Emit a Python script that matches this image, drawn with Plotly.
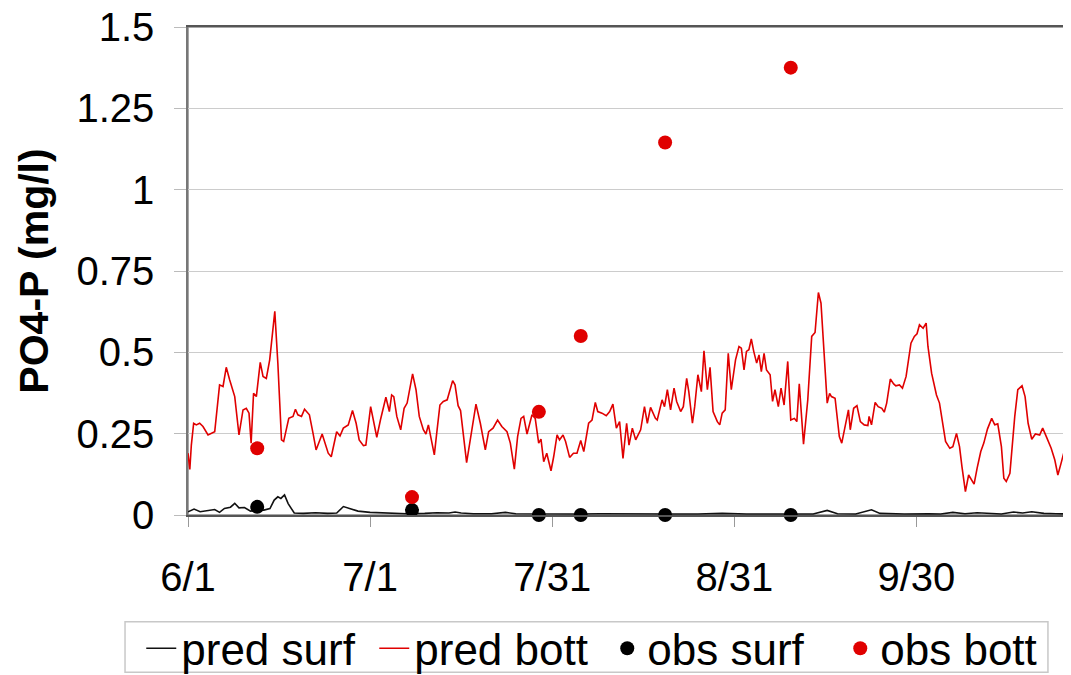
import plotly.graph_objects as go

# ---- data (day offset from 6/1, value in mg/l) ----
tick_days = [0, 30, 60, 90, 120]
tick_labels = ["6/1", "7/1", "7/31", "8/31", "9/30"]
y_ticks = [0, 0.25, 0.5, 0.75, 1, 1.25, 1.5]
y_tick_labels = ["0", "0.25", "0.5", "0.75", "1", "1.25", "1.5"]

pred_bott = [
    (0, 0.19), (0.3, 0.14), (0.55, 0.215), (0.93, 0.282), (1.37, 0.277), (1.92, 0.282), (2.47, 0.272),
    (3.3, 0.246), (4.4, 0.256), (5.2, 0.40), (5.77, 0.395), (6.3, 0.454), (6.87, 0.415), (7.7, 0.364),
    (8.4, 0.246), (9.06, 0.323), (9.6, 0.328), (10.05, 0.313), (10.4, 0.221), (10.8, 0.374),
    (11.26, 0.364), (11.9, 0.469), (12.36, 0.426), (12.9, 0.420), (13.46, 0.477), (14.3, 0.626),
    (14.8, 0.467), (15.4, 0.231), (15.76, 0.226), (16.6, 0.297), (17.3, 0.303), (17.7, 0.325),
    (18.1, 0.308), (18.7, 0.303), (19.2, 0.325), (20.0, 0.308), (20.6, 0.251), (21.1, 0.200),
    (22.1, 0.249), (23.1, 0.190), (23.6, 0.179), (24.0, 0.210), (24.49, 0.256), (25.04, 0.243),
    (25.59, 0.267), (26.4, 0.277), (27.1, 0.321), (27.7, 0.282), (28.2, 0.231), (28.9, 0.213),
    (29.3, 0.215), (30.09, 0.333), (30.5, 0.292), (31.1, 0.239), (31.7, 0.292), (32.6, 0.362),
    (33.17, 0.318), (33.55, 0.369), (33.9, 0.364), (34.4, 0.303), (35.04, 0.262), (35.6, 0.328),
    (36.1, 0.344), (37.0, 0.434), (37.56, 0.385), (38.1, 0.303), (38.77, 0.262), (39.2, 0.249),
    (39.6, 0.277), (40.1, 0.231), (40.58, 0.185), (40.97, 0.251), (41.5, 0.338), (42.06, 0.349),
    (42.7, 0.354), (43.6, 0.413), (43.99, 0.400), (44.5, 0.336), (44.9, 0.321), (45.9, 0.161),
    (46.7, 0.251), (47.44, 0.341), (48.16, 0.282), (48.98, 0.200), (49.53, 0.256), (50.25, 0.267),
    (51.0, 0.292), (51.7, 0.272), (52.55, 0.256), (53.1, 0.221), (53.76, 0.141), (54.3, 0.241),
    (54.86, 0.297), (55.3, 0.303), (55.85, 0.249), (56.67, 0.308), (57.2, 0.297), (57.77, 0.221),
    (58.15, 0.233), (58.6, 0.164), (59.1, 0.190), (59.8, 0.136), (60.24, 0.179), (60.8, 0.246),
    (61.2, 0.231), (61.78, 0.246), (62.2, 0.226), (62.87, 0.177), (63.5, 0.190), (64.08, 0.190),
    (64.7, 0.229), (65.2, 0.195), (66.0, 0.282), (66.56, 0.292), (67.1, 0.346), (67.5, 0.318),
    (68.2, 0.313), (68.9, 0.305), (69.47, 0.318), (70.0, 0.341), (70.57, 0.267), (71.1, 0.287),
    (71.66, 0.174), (72.26, 0.282), (72.65, 0.215), (73.2, 0.267), (73.75, 0.231), (74.57, 0.262),
    (75.2, 0.333), (75.67, 0.282), (76.2, 0.331), (77.0, 0.297), (77.3, 0.292), (78.1, 0.354),
    (78.5, 0.333), (78.97, 0.385), (79.5, 0.323), (80.07, 0.390), (80.5, 0.349), (81.16, 0.318),
    (81.6, 0.333), (82.15, 0.420), (82.5, 0.379), (83.1, 0.282), (83.47, 0.333), (84.0, 0.431),
    (84.57, 0.379), (85.0, 0.505), (85.56, 0.385), (86.0, 0.454), (86.5, 0.318), (87.2, 0.287),
    (87.6, 0.277), (88.0, 0.313), (88.5, 0.323), (89.0, 0.497), (89.5, 0.385), (90.2, 0.477),
    (90.77, 0.518), (91.16, 0.513), (91.6, 0.446), (92.0, 0.503), (92.4, 0.508), (92.8, 0.541),
    (93.2, 0.503), (93.68, 0.467), (94.07, 0.492), (94.45, 0.441), (94.9, 0.497), (95.3, 0.446),
    (95.9, 0.431), (96.3, 0.349), (96.7, 0.385), (97.25, 0.333), (97.7, 0.390), (98.2, 0.338),
    (98.8, 0.472), (99.3, 0.292), (99.9, 0.297), (100.3, 0.287), (100.7, 0.403), (101.4, 0.218),
    (102.1, 0.354), (102.75, 0.549), (103.3, 0.561), (103.85, 0.684), (104.28, 0.651), (104.7, 0.538),
    (105.3, 0.344), (105.7, 0.374), (106.0, 0.364), (106.6, 0.359), (107.3, 0.241), (107.7, 0.221),
    (108.2, 0.272), (108.8, 0.323), (109.1, 0.262), (109.66, 0.328), (110.2, 0.336), (110.76, 0.287),
    (111.4, 0.277), (112.0, 0.275), (112.2, 0.303), (112.6, 0.277), (113.2, 0.346), (113.7, 0.333),
    (114.3, 0.328), (114.7, 0.316), (115.1, 0.344), (115.7, 0.418), (116.25, 0.403), (116.6, 0.397),
    (117.2, 0.400), (117.7, 0.390), (118.3, 0.426), (119.1, 0.528), (119.66, 0.549), (120.1, 0.557),
    (120.5, 0.585), (120.8, 0.579), (121.1, 0.574), (121.6, 0.590), (121.9, 0.518), (122.5, 0.436),
    (123.3, 0.369), (123.8, 0.344), (124.4, 0.272), (124.8, 0.226), (125.5, 0.205), (126.0, 0.210),
    (126.6, 0.251), (127.1, 0.210), (127.5, 0.149), (128.07, 0.072), (128.6, 0.123), (129.5, 0.095),
    (130.0, 0.144), (130.6, 0.195), (131.1, 0.221), (131.7, 0.264), (132.4, 0.297), (132.9, 0.277),
    (133.4, 0.280), (134.0, 0.210), (134.4, 0.113), (134.8, 0.103), (135.4, 0.128), (136.2, 0.303),
    (136.7, 0.385), (137.4, 0.397), (137.9, 0.364), (138.4, 0.282), (139.0, 0.233), (139.6, 0.249),
    (140.3, 0.246), (140.8, 0.267), (141.4, 0.241), (142.2, 0.205), (142.8, 0.169), (143.3, 0.123),
    (143.9, 0.164), (144.4, 0.200), (145.0, 0.231), (145.5, 0.290),
]

pred_surf = [
    (0, 0.010), (1, 0.018), (2, 0.010), (3.3, 0.015), (4.4, 0.017), (5.2, 0.008), (6, 0.020),
    (7, 0.024), (7.7, 0.036), (8.4, 0.022), (9.3, 0.023), (10.3, 0.012), (11.5, 0.015), (12.5, 0.015),
    (13.5, 0.020), (14.2, 0.046), (14.8, 0.056), (15.3, 0.051), (15.9, 0.062), (16.5, 0.035),
    (17.5, 0.006), (19, 0.005), (21, 0.007), (23, 0.005), (24.5, 0.006), (25.6, 0.026), (26.5, 0.020),
    (28, 0.012), (30, 0.008), (33, 0.006), (36, 0.004), (39, 0.005), (41, 0.007), (43, 0.006),
    (44, 0.009), (45, 0.006), (47, 0.004), (50, 0.004), (52.3, 0.008), (54, 0.004), (57, 0.003),
    (60, 0.003), (64, 0.003), (68, 0.004), (72, 0.003), (76, 0.004), (80, 0.003), (84, 0.003),
    (88, 0.005), (92, 0.003), (96, 0.003), (100, 0.003), (103, 0.003), (105.3, 0.014), (107, 0.004),
    (110, 0.003), (112.6, 0.016), (114, 0.005), (118, 0.003), (122, 0.004), (124, 0.003),
    (126, 0.008), (128, 0.004), (130, 0.007), (132, 0.004), (134, 0.003), (136, 0.009),
    (137.5, 0.006), (139, 0.010), (141, 0.005), (143, 0.004), (145.5, 0.003),
]

obs_days = [11.4, 36.9, 57.8, 64.7, 78.6, 99.3]
obs_surf = [0.025, 0.015, 0.0, 0.0, 0.0, 0.0]
obs_bott = [0.205, 0.055, 0.317, 0.55, 1.145, 1.375]

x_end = 145.3

FONT = "Liberation Sans, Arial, sans-serif"

fig = go.Figure()
fig.add_trace(go.Scatter(
    x=[d for d, v in pred_surf], y=[v for d, v in pred_surf], mode="lines",
    name="pred surf", line=dict(color="#111111", width=1.6)))
fig.add_trace(go.Scatter(
    x=[d for d, v in pred_bott], y=[v for d, v in pred_bott], mode="lines",
    name="pred bott", line=dict(color="#e00000", width=1.6)))
fig.add_trace(go.Scatter(
    x=obs_days, y=obs_surf, mode="markers", name="obs surf",
    marker=dict(color="#000000", size=14), cliponaxis=False))
fig.add_trace(go.Scatter(
    x=obs_days, y=obs_bott, mode="markers", name="obs bott",
    marker=dict(color="#e00000", size=14), cliponaxis=False))

# plot-area frame (top/right border) and legend frame, in paper coords
fig.add_shape(type="rect", xref="paper", yref="paper", x0=0, x1=1, y0=0, y1=1,
              line=dict(color="#8a8a8a", width=1.5), fillcolor="rgba(0,0,0,0)", layer="below")
fig.add_shape(type="rect", xref="paper", yref="paper",
              x0=-0.0714, x1=0.975, y0=-0.219, y1=-0.322,
              line=dict(color="#c8c8c8", width=1.5), fillcolor="rgba(0,0,0,0)")

fig.update_layout(
    width=1071, height=675,
    margin=dict(l=180, r=9, t=19, b=168, autoexpand=False),
    paper_bgcolor="white", plot_bgcolor="rgba(0,0,0,0)",
    font=dict(family=FONT, color="#000000", size=40),
    showlegend=True,
    legend=dict(
        orientation="h", x=-0.053, y=-0.274, xanchor="left", yanchor="middle",
        borderwidth=0, bgcolor="rgba(0,0,0,0)", font=dict(size=44, family=FONT),
        itemwidth=30, tracegroupgap=0, entrywidth=188,
    ),
)
fig.update_xaxes(
    range=[0, x_end], tickmode="array", tickvals=tick_days, ticktext=tick_labels,
    showgrid=False, zeroline=False, showline=True, linecolor="#555555", linewidth=1.5,
    mirror=True, ticks="outside", ticklen=10, tickcolor="#999999",
    tickfont=dict(size=40, family=FONT), ticklabelstandoff=16, automargin=False,
)
fig.update_yaxes(
    range=[0, 1.5], tickmode="array", tickvals=y_ticks, ticktext=y_tick_labels,
    showgrid=True, gridcolor="#cccccc", gridwidth=1.2, zeroline=False,
    showline=True, linecolor="#777777", linewidth=1.5, mirror=True,
    ticks="outside", ticklen=12, tickcolor="#bbbbbb", ticklabeloverflow="allow",
    tickfont=dict(size=40, family=FONT), ticklabelstandoff=12, automargin=False,
    title=dict(text="<b>PO4-P (mg/l)</b>", font=dict(size=41, family=FONT), standoff=15),
)

fig.write_html("out.html")
